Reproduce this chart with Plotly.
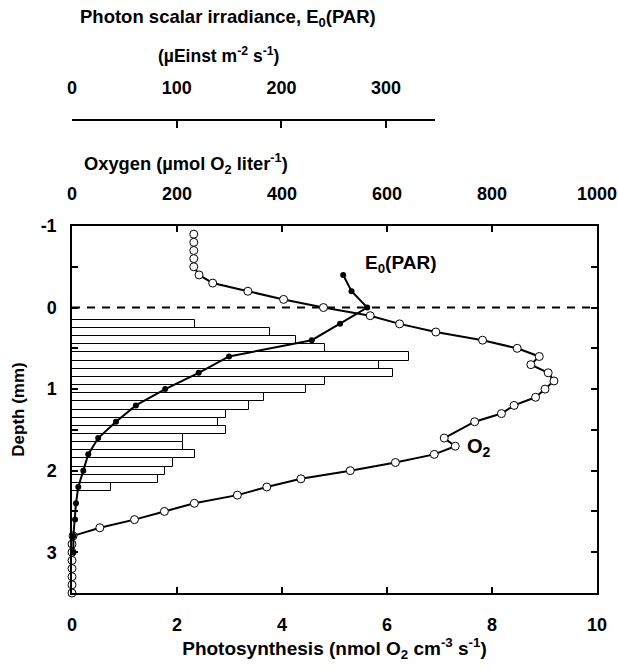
import plotly.graph_objects as go

# Oxygen profile (umol O2 / liter) vs depth (mm)
depth_o2 = [-0.9, -0.8, -0.7, -0.6, -0.5, -0.4, -0.3, -0.2, -0.1, 0.0, 0.1, 0.2, 0.3, 0.4,
            0.5, 0.6, 0.7, 0.8, 0.9, 1.0, 1.1, 1.2, 1.3, 1.4, 1.6, 1.7, 1.8, 1.9, 2.0, 2.1,
            2.2, 2.3, 2.4, 2.5, 2.6, 2.7, 2.8, 2.9, 3.0, 3.1, 3.2, 3.3, 3.4, 3.5]
oxygen = [232, 232, 232, 232, 232, 242, 268, 335, 403, 479, 568, 624, 693, 782,
          848, 890, 874, 907, 918, 901, 883, 842, 818, 767, 709, 730, 690, 616, 530, 436,
          371, 315, 233, 176, 119, 53, 2, 0, 0, 0, 0, 0, 0, 0]

# Photon scalar irradiance E0(PAR) (uEinst m-2 s-1) vs depth
depth_e0 = [-0.4, -0.2, 0.0, 0.2, 0.4, 0.6, 0.8, 1.0, 1.2, 1.4, 1.6, 1.8, 2.0, 2.2, 2.4, 2.6, 2.8, 3.0]
e0_par = [259, 267, 282, 256, 229, 150, 121, 89, 61, 42, 25, 15.5, 10.8, 6, 3.8, 2.9, 1.3, 1.3]

# Photosynthesis rate (nmol O2 cm-3 s-1) vs depth
depth_ps = [0.2, 0.3, 0.4, 0.5, 0.6, 0.7, 0.8, 0.9, 1.0, 1.1, 1.2, 1.3, 1.4, 1.5, 1.6, 1.7,
            1.8, 1.9, 2.0, 2.1, 2.2]
photosynthesis = [2.34, 3.77, 4.27, 4.82, 6.42, 5.84, 6.12, 4.82, 4.46, 3.66, 3.38, 2.93,
                  2.79, 2.93, 2.12, 2.12, 2.34, 1.92, 1.77, 1.63, 0.74]

ps_ticks = [0, 2, 4, 6, 8, 10]
o2_ticks = [0, 200, 400, 600, 800, 1000]
e0_ticks = [0, 100, 200, 300]
e0_axis_end = 346.7
depth_ticks = [-1, -0.5, 0, 0.5, 1, 1.5, 2, 2.5, 3, 3.5]

FONT = "Liberation Sans, Arial, Helvetica, sans-serif"
W, H = 618, 670
L, R, T, B = 72, 21, 120, 77
plot_top_px = 226
paper_h = H - T - B
y_dom_top = (H - B - plot_top_px) / paper_h
paper_w = W - L - R
e0_dom_right = (435 - L) / paper_w
TRANSP = "rgba(0,0,0,0)"

fig = go.Figure()

fig.add_trace(go.Bar(
    x=photosynthesis, y=depth_ps, orientation="h", width=0.1,
    marker=dict(color="white", line=dict(color="black", width=1)),
    xaxis="x", yaxis="y", showlegend=False))

fig.add_trace(go.Scatter(
    x=[ps_ticks[0], ps_ticks[-1]], y=[0, 0], mode="lines",
    line=dict(color="black", width=2, dash="8px,7px"),
    xaxis="x", yaxis="y", showlegend=False))

fig.add_trace(go.Scatter(
    x=oxygen, y=depth_o2, mode="lines+markers",
    line=dict(color="black", width=2),
    marker=dict(symbol="circle", size=8, color="white", line=dict(color="black", width=1)),
    xaxis="x2", yaxis="y", cliponaxis=False, showlegend=False))

fig.add_trace(go.Scatter(
    x=e0_par, y=depth_e0, mode="lines+markers",
    line=dict(color="black", width=2),
    marker=dict(symbol="circle", size=6, color="black"),
    xaxis="x3", yaxis="y", cliponaxis=False, showlegend=False))

fig.update_layout(
    width=W, height=H,
    margin=dict(l=L, r=R, t=T, b=B, autoexpand=False),
    paper_bgcolor="white", plot_bgcolor=TRANSP,
    font=dict(family=FONT, size=18, color="black", weight="bold"),
    bargap=0,
    xaxis=dict(
        range=[0, 10], domain=[0, 1], anchor="y", automargin=False,
        tickmode="array", tickvals=ps_ticks, ticktext=[str(v) for v in ps_ticks],
        ticks="inside", ticklen=6, tickwidth=1.5, tickcolor="black",
        showline=True, linecolor="black", linewidth=1.5, mirror="ticks",
        showgrid=False, zeroline=False, ticklabelstandoff=15,
        title=dict(text="Photosynthesis (nmol O<sub>2</sub> cm<sup>-3</sup> s<sup>-1</sup>)",
                   font=dict(size=19), standoff=4),
    ),
    xaxis2=dict(
        range=[0, 1000], overlaying="x", side="top", anchor="y", automargin=False,
        tickmode="array", tickvals=o2_ticks, ticktext=[str(v) for v in o2_ticks],
        ticks="", showline=False, showgrid=False, zeroline=False,
        ticklabelstandoff=21,
    ),
    xaxis3=dict(
        range=[0, e0_axis_end], domain=[0, e0_dom_right], anchor="free", position=1,
        side="top", automargin=False,
        tickmode="array", tickvals=e0_ticks + [e0_axis_end],
        ticktext=[str(v) for v in e0_ticks] + [""],
        ticks="inside", ticklen=7, tickwidth=1.5, tickcolor="black",
        showline=True, linecolor="black", linewidth=1.5,
        showgrid=False, zeroline=False, ticklabelstandoff=18,
    ),
    yaxis=dict(
        range=[3.5, -1], domain=[0, y_dom_top], anchor="x", automargin=False,
        tickmode="array", tickvals=depth_ticks,
        ticktext=[("%d" % v) if float(v).is_integer() else "" for v in depth_ticks],
        ticks="inside", ticklen=6, tickwidth=1.5, tickcolor="black",
        showline=True, linecolor="black", linewidth=1.5, mirror="ticks",
        showgrid=False, zeroline=False, ticklabelstandoff=10,
        title=dict(text="Depth (mm)", font=dict(size=17), standoff=12),
    ),
)

def px_to_paper_x(px):
    return (px - L) / paper_w

def py_to_paper_y(py):
    return (H - B - py) / paper_h

title_annots = [
    ("Photon scalar irradiance, E<sub>0</sub>(PAR)", 228, 18, 18.5),
    ("(µEinst m<sup>-2</sup> s<sup>-1</sup>)", 218, 55, 17.5),
    ("Oxygen (µmol O<sub>2</sub> liter<sup>-1</sup>)", 186, 163, 18.3),
]
for text, px, py, size in title_annots:
    fig.add_annotation(text=text, x=px_to_paper_x(px), y=py_to_paper_y(py),
                       xref="paper", yref="paper", xanchor="center", yanchor="middle",
                       showarrow=False, font=dict(size=size))

fig.add_annotation(text="E<sub>0</sub>(PAR)", x=625, y=-0.53, xref="x2", yref="y",
                   xanchor="center", yanchor="middle", showarrow=False, font=dict(size=19))
fig.add_annotation(text="O<sub>2</sub>", x=775, y=1.72, xref="x2", yref="y",
                   xanchor="center", yanchor="middle", showarrow=False, font=dict(size=20))

fig.write_html("out.html",
               config={"displayModeBar": False},
               post_script="document.body.style.margin='0';document.body.style.overflow='hidden';")
